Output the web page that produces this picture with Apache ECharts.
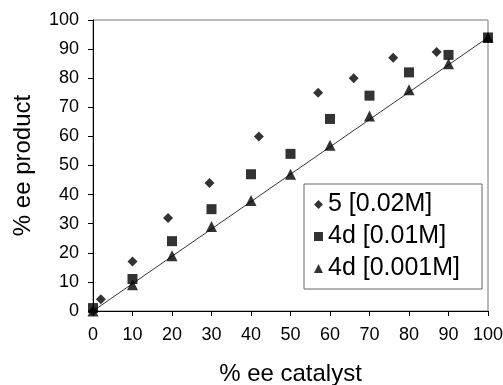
<!DOCTYPE html>
<html><head><meta charset="utf-8">
<script src="https://cdn.jsdelivr.net/npm/echarts@6/dist/echarts.min.js"></script>
<style>html,body{margin:0;padding:0;background:#fff}#c{width:503px;height:385px}</style>
</head><body><div id="c"></div>
<script>
var xTicks = [0,10,20,30,40,50,60,70,80,90,100];
var yTicks = [0,10,20,30,40,50,60,70,80,90,100];
var names = ['5 [0.02M]', '4d [0.01M]', '4d [0.001M]'];
var catA = [0,2,10,19,29.5,42,57,66,76,87];
var valA = [0,4,17,32,44,60,75,80,87,89];
var catB = [0,10,20,30,40,50,60,70,80,90,100];
var valB = [1,11,24,35,47,54,66,74,82,88,94];
var catC = [0,10,20,30,40,50,60,70,80,90,100];
var valC = [0,9,19,29,38,47,57,67,76,85,94];
var fitX = [0,100];
var fitY = [0,94];

function pairs(xs, ys){ return xs.map(function(x,i){return [x, ys[i]];}); }
var font = '"Liberation Sans", Arial, sans-serif';
var chart = echarts.init(document.getElementById('c'), null, {renderer:'canvas'});
chart.setOption({
  animation:false,
  backgroundColor:'#fff',
  grid:{left:93,right:15,top:20,bottom:74,show:true,borderColor:'#777',borderWidth:1,containLabel:false,outerBoundsMode:'none'},
  legend:{
    orient:'vertical', left:304, top:184,
    backgroundColor:'#fff', borderColor:'#666', borderWidth:1,
    padding:[8,22,8,10], itemGap:7, itemWidth:9, itemHeight:9,
    textStyle:{fontFamily:font,fontSize:25,color:'#000',padding:[0,0,0,0]},
    data:[{name:names[0],icon:'diamond'},{name:names[1],icon:'rect'},{name:names[2],icon:'triangle'}]
  },
  xAxis:{type:'value',min:xTicks[0],max:xTicks[xTicks.length-1],interval:10,
    name:'% ee catalyst',nameLocation:'middle',nameGap:51,
    nameTextStyle:{fontFamily:font,fontSize:24,color:'#000'},
    axisLine:{lineStyle:{color:'#000',width:1}},
    axisTick:{show:true,inside:false,length:5,lineStyle:{color:'#000'}},
    axisLabel:{fontFamily:font,fontSize:18,color:'#000',margin:15},
    splitLine:{show:false}},
  yAxis:{type:'value',min:yTicks[0],max:yTicks[yTicks.length-1],interval:10,
    name:'% ee product',nameLocation:'middle',nameGap:58,
    nameTextStyle:{fontFamily:font,fontSize:24,color:'#000'},
    axisLine:{show:true,lineStyle:{color:'#000',width:1}},
    axisTick:{show:true,inside:false,length:5,lineStyle:{color:'#000'}},
    axisLabel:{fontFamily:font,fontSize:18,color:'#000',margin:14},
    splitLine:{show:false}},
  series:[
    {type:'line',data:pairs(fitX,fitY),symbol:'none',lineStyle:{color:'#333',width:1},z:1,silent:true},
    {name:names[2],type:'scatter',symbol:'triangle',symbolSize:11,itemStyle:{color:'#000'},data:pairs(catC,valC),z:2},
    {name:names[0],type:'scatter',symbol:'diamond',symbolSize:10,itemStyle:{color:'#000'},data:pairs(catA,valA),z:3},
    {name:names[1],type:'scatter',symbol:'rect',symbolSize:10,itemStyle:{color:'#000'},data:pairs(catB,valB),z:4}
  ]
});
</script></body></html>
